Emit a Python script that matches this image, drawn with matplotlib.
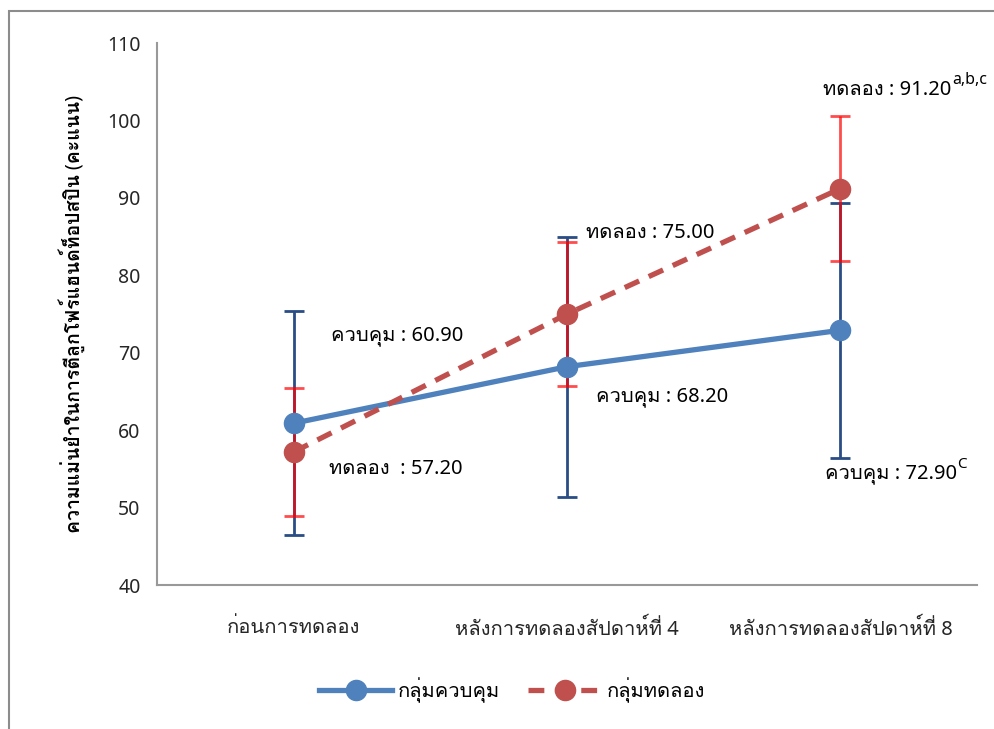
import matplotlib
matplotlib.use('Agg')
import matplotlib.pyplot as plt
from matplotlib import font_manager
from matplotlib.ft2font import FT2Font
from matplotlib.patches import Rectangle

# find an installed font that has Thai glyphs
thai_font = None
for f in font_manager.fontManager.ttflist:
    try:
        if FT2Font(f.fname).get_char_index(ord('ก')):
            thai_font = f.name
            break
    except Exception:
        pass
families = ['Noto Sans'] + ([thai_font] if thai_font else []) + ['DejaVu Sans']
plt.rcParams['font.family'] = families

groups = ['ก่อนการทดลอง', 'หลังการทดลองสัปดาห์ที่ 4', 'หลังการทดลองสัปดาห์ที่ 8']
control_mean = [60.90, 68.20, 72.90]
control_sd = [14.5, 16.8, 16.5]
exp_mean = [57.20, 75.00, 91.20]
exp_sd = [8.3, 9.3, 9.4]
yticks = [40, 50, 60, 70, 80, 90, 100, 110]

blue = '#4F81BD'
red = '#C0504D'
navy = '#2A4D85'

fig = plt.figure(figsize=(9.95, 7.29), dpi=100)
ax = fig.add_axes([0.158, 0.1975, 0.824, 0.7435])
x = list(range(len(groups)))

# error bars
ax.errorbar(x, control_mean, yerr=control_sd, fmt='none', ecolor=navy,
            elinewidth=2, capsize=7, capthick=2, zorder=2)
ax.errorbar(x, exp_mean, yerr=exp_sd, fmt='none', ecolor='#FF0000',
            elinewidth=2, capsize=7, capthick=2, alpha=0.7, zorder=3)

ax.plot(x, control_mean, color=blue, lw=3.8, marker='o', ms=14.5,
        label='กลุ่มควบคุม', zorder=4)
ax.plot(x, exp_mean, color=red, lw=3.8, ls=(0, (3, 2)), marker='o', ms=14.5,
        label='กลุ่มทดลอง', zorder=5)

ax.set_xlim(-0.5, 2.5)
ax.set_ylim(40, 110)
ax.set_yticks(yticks)
ax.set_xticks(x)
ax.set_xticklabels(groups, fontsize=14.5)
ax.tick_params(axis='both', length=0, colors='#262626')
ax.tick_params(axis='y', labelsize=14, pad=12)
ax.tick_params(axis='x', pad=24)
for s in ['top', 'right']:
    ax.spines[s].set_visible(False)
for s in ['left', 'bottom']:
    ax.spines[s].set_color('#999999')
    ax.spines[s].set_linewidth(1.5)

ax.set_ylabel('ความแม่นยำในการตีลูกโฟร์แฮนด์ท็อปสปิน (คะแนน)', fontsize=14,
              fontweight='bold', labelpad=16)

# value labels
fs = 14.5
ax.text(0.135, 72.1, 'ควบคุม : 60.90', fontsize=fs, va='center')
ax.text(0.128, 55.0, 'ทดลอง  : 57.20', fontsize=fs, va='center')
ax.text(1.069, 85.4, 'ทดลอง : 75.00', fontsize=fs, va='center')
ax.text(1.106, 64.3, 'ควบคุม : 68.20', fontsize=fs, va='center')
t1 = ax.text(1.938, 103.9, 'ทดลอง : 91.20', fontsize=fs, va='center')
t2 = ax.text(1.942, 54.4, 'ควบคุม : 72.90', fontsize=fs, va='center')
ax.annotate('a,b,c', xy=(1, 0.6), xycoords=t1, fontsize=11.5, va='bottom')
ax.annotate('C', xy=(1, 0.6), xycoords=t2, fontsize=11, va='bottom')

fig.legend(*ax.get_legend_handles_labels(), loc='center',
           bbox_to_anchor=(0.515, (729 - 690) / 729), ncol=2,
           frameon=False, fontsize=14.5, handlelength=3.6, columnspacing=1.4,
           handletextpad=0.3)

# outer chart border (cut off at right and bottom)
fig.patches.append(Rectangle((9 / 995, -0.1), 1.2, (729 - 11) / 729 + 0.1,
                             transform=fig.transFigure, fill=False,
                             edgecolor='#8C8C8C', lw=1.5))

fig.savefig('out.png', dpi=100)
